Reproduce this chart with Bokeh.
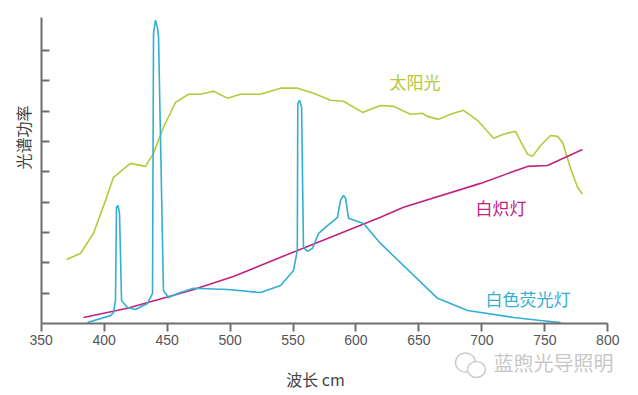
import math
from bokeh.plotting import figure
from bokeh.models import Range1d, FixedTicker, Label
from bokeh.embed import file_html
from bokeh.resources import INLINE

# ---- data ----
sun_x = [370.1, 381.2, 391.5, 401.1, 407.4, 420.9, 432.8, 439.2, 447.1, 456.7,
         467.0, 476.5, 486.9, 498.0, 508.3, 524.2, 540.1, 553.6, 566.3, 579.8,
         590.1, 605.2, 619.5, 629.8, 643.3, 652.9, 656.8, 665.6, 675.1, 685.4,
         696.5, 709.3, 717.2, 726.7, 729.1, 736.3, 740.2, 746.6, 754.5, 760.1,
         764.1, 770.4, 776.0, 779.9]
sun_y = [2.11, 2.31, 2.97, 4.06, 4.82, 5.28, 5.18, 5.61, 6.47, 7.29,
         7.56, 7.56, 7.66, 7.43, 7.56, 7.56, 7.76, 7.76, 7.59, 7.36,
         7.33, 6.96, 7.19, 7.16, 6.90, 6.93, 6.83, 6.73, 6.90, 7.03,
         6.70, 6.11, 6.24, 6.34, 6.14, 5.58, 5.51, 5.87, 6.20, 6.17,
         5.97, 5.12, 4.49, 4.26]

inc_x = [383.6, 418.5, 468.6, 502.7, 553.6, 619.5, 637.8, 698.9, 736.3, 752.1, 779.9]
inc_y = [0.20, 0.50, 1.09, 1.55, 2.41, 3.50, 3.83, 4.62, 5.18, 5.21, 5.74]

flu_x = [386.8, 405.0, 407.4, 409.0, 409.8, 411.0, 412.2, 413.8, 418.5, 424.9,
         434.4, 438.4, 439.2, 440.8, 442.4, 443.2, 447.1, 451.1, 458.3, 471.0,
         498.0, 524.2, 540.1, 550.4, 553.4, 553.8, 555.2, 556.8, 558.3, 561.5,
         565.5, 570.3, 577.4, 585.3, 587.7, 590.1, 591.7, 594.1, 606.0, 619.5,
         664.8, 688.6, 725.1, 746.6, 762.5]
flu_y = [0.03, 0.26, 0.36, 0.76, 3.83, 3.89, 3.63, 0.76, 0.53, 0.46,
         0.66, 0.99, 9.57, 10.0, 9.74, 9.44, 1.09, 0.86, 0.99, 1.16,
         1.12, 1.02, 1.25, 1.75, 2.41, 7.26, 7.36, 7.13, 2.51, 2.38,
         2.48, 2.97, 3.23, 3.50, 4.06, 4.22, 4.13, 3.47, 3.30, 2.64,
         0.83, 0.43, 0.20, 0.10, 0.03]

x_ticks = [350, 400, 450, 500, 550, 600, 650, 700, 750, 800]
y_ticks = [1, 2, 3, 4, 5, 6, 7, 8, 9]

series_names = ["太阳光", "白炽灯", "白色荧光灯"]
series_colors = ["#b5c93a", "#c2227f", "#33aed4"]
label_pos = [(626.7, 7.98), (695.0, 3.84), (702.9, 0.84)]

x_title = "波长 cm"
y_title = "光谱功率"
watermark = "蓝煦光导照明"

CJK = "Noto Sans CJK SC"

# plotting area spans the whole figure; axes sit at fixed data locations
p = figure(width=638, height=395, output_backend="svg", toolbar_location=None,
           x_range=Range1d(317.68, 824.38), y_range=Range1d(-2.374, 10.650),
           min_border=0)
p.outline_line_color = None
p.grid.visible = False
p.background_fill_color = "white"
p.border_fill_color = "white"

# lines
p.line(sun_x, sun_y, line_color=series_colors[0], line_width=1.6)
p.line(inc_x, inc_y, line_color=series_colors[1], line_width=1.6)
p.line(flu_x, flu_y, line_color=series_colors[2], line_width=1.6)

# x axis
xa = p.xaxis[0]
xa.fixed_location = 0
xa.bounds = (350, 800)
xa.ticker = FixedTicker(ticks=x_ticks)
xa.minor_tick_line_color = None
xa.major_tick_in = 0
xa.major_tick_out = 8
xa.axis_line_color = "#6e6e6e"
xa.axis_line_width = 2
xa.major_tick_line_color = "#6e6e6e"
xa.major_tick_line_width = 2
xa.major_label_text_font = "Liberation Sans"
xa.major_label_text_font_size = "14px"
xa.major_label_text_color = "#555555"
xa.major_label_standoff = 4

# y axis (ticks only, no labels)
ya = p.yaxis[0]
ya.fixed_location = 350
ya.bounds = (0, 10.09)
ya.ticker = FixedTicker(ticks=y_ticks)
ya.major_label_overrides = {t: "" for t in y_ticks}
ya.minor_tick_line_color = None
ya.major_tick_in = 8
ya.major_tick_out = 0
ya.axis_line_color = "#6e6e6e"
ya.axis_line_width = 2
ya.major_tick_line_color = "#6e6e6e"
ya.major_tick_line_width = 2

# axis titles
p.add_layout(Label(x=567.9, y=-1.846, text=x_title, text_color="#444444",
                   text_font=CJK, text_font_size="16px",
                   text_align="center", text_baseline="middle"))
p.add_layout(Label(x=335.9, y=6.13, text=y_title, text_color="#444444",
                   text_font=CJK, text_font_size="16px", angle=math.pi / 2,
                   text_align="center", text_baseline="middle"))

# series labels
for name, col, (lx, ly) in zip(series_names, series_colors, label_pos):
    p.add_layout(Label(x=lx, y=ly, text=name, text_color=col,
                       text_font=CJK, text_font_size="17px",
                       text_baseline="middle", text_align="left"))

# watermark (icon approximated by two outlined bubbles, then the text)
p.ellipse(x=[687.0, 695.7], y=[-1.286, -1.517], width=[15.9, 14.3],
          height=[0.626, 0.528], fill_color="white", fill_alpha=[0.0, 1.0],
          line_color="#cccccc", line_width=1.5)
p.add_layout(Label(x=709.2, y=-1.286, text=watermark, text_color="#c8c8c8",
                   text_font=CJK, text_font_size="20px",
                   text_baseline="middle", text_align="left"))

open("out.html", "w").write(file_html(p, INLINE))
